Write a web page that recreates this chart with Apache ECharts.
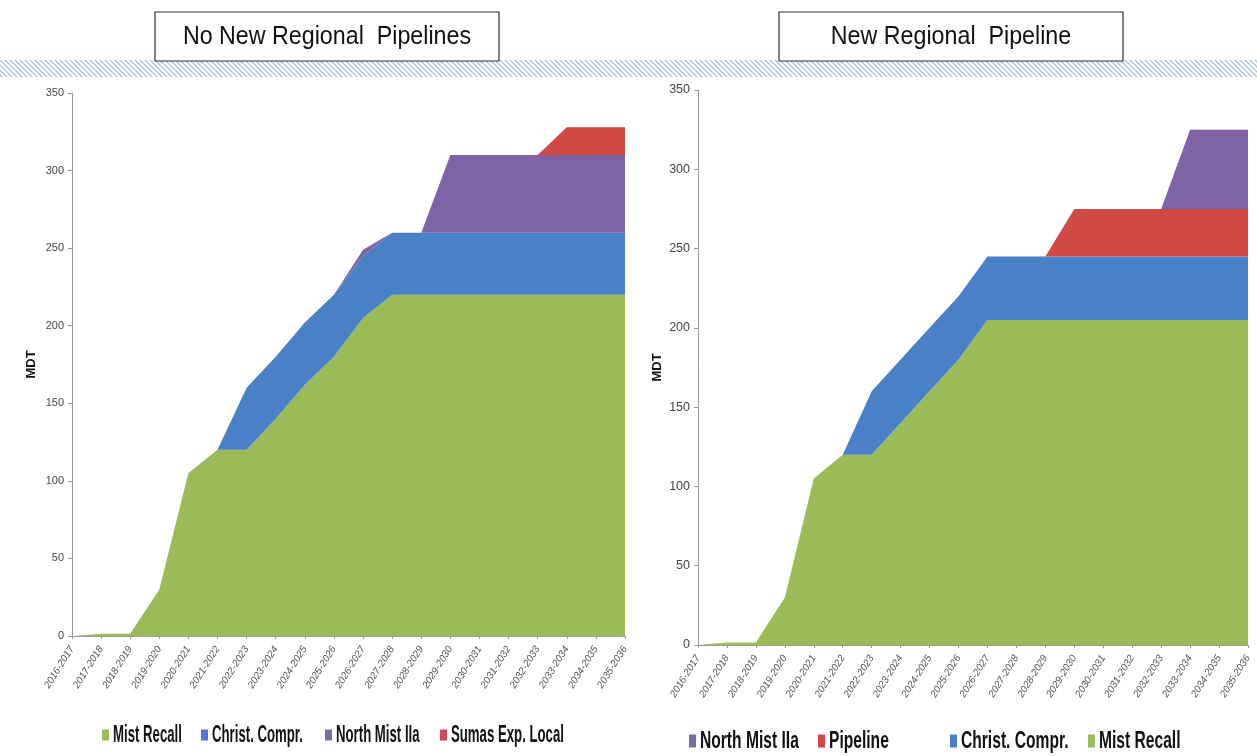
<!DOCTYPE html>
<html>
<head>
<meta charset="utf-8">
<title>MDT outlook</title>
<script src="https://cdn.jsdelivr.net/npm/echarts@6/dist/echarts.min.js"></script>
<style>
  html, body { margin: 0; padding: 0; background: #fff; }
  #chart { width: 1257px; height: 756px; }
</style>
</head>
<body>
<div id="chart"></div>
<script>
// Gas-year categories shared by both panels
const categories = [
  '2016-2017', '2017-2018', '2018-2019', '2019-2020', '2020-2021',
  '2021-2022', '2022-2023', '2023-2024', '2024-2025', '2025-2026',
  '2026-2027', '2027-2028', '2028-2029', '2029-2030', '2030-2031',
  '2031-2032', '2032-2033', '2033-2034', '2034-2035', '2035-2036'
];
const yTicks = [0, 50, 100, 150, 200, 250, 300, 350];

// Panel 1: no new regional pipelines (MDT per resource, stacked)
const mistRecallA   = [0, 1.5, 1.5, 30, 105, 120, 120, 140, 162, 180, 205, 220, 220, 220, 220, 220, 220, 220, 220, 220];
const christComprA  = [0, 0, 0, 0, 0, 0, 40, 40, 40, 40, 40, 40, 40, 40, 40, 40, 40, 40, 40, 40];
const northMistA    = [0, 0, 0, 0, 0, 0, 0, 0, 0, 0, 4, 0, 0, 50, 50, 50, 50, 50, 50, 50];
const sumasLocalA   = [0, 0, 0, 0, 0, 0, 0, 0, 0, 0, 0, 0, 0, 0, 0, 0, 0, 18, 18, 18];

// Panel 2: new regional pipeline (MDT per resource, stacked)
const mistRecallB   = [0, 1.5, 1.5, 30, 105, 120, 120, 140, 160, 180, 205, 205, 205, 205, 205, 205, 205, 205, 205, 205];
const christComprB  = [0, 0, 0, 0, 0, 0, 40, 40, 40, 40, 40, 40, 40, 40, 40, 40, 40, 40, 40, 40];
const pipelineB     = [0, 0, 0, 0, 0, 0, 0, 0, 0, 0, 0, 0, 0, 30, 30, 30, 30, 30, 30, 30];
const northMistB    = [0, 0, 0, 0, 0, 0, 0, 0, 0, 0, 0, 0, 0, 0, 0, 0, 0, 50, 50, 50];

// Legend entries in the order each panel lists them
const legendNamesA = ['Mist Recall', 'Christ. Compr.', 'North Mist IIa', 'Sumas Exp. Local'];
const legendNamesB = ['North Mist IIa', 'Pipeline', 'Christ. Compr.', 'Mist Recall'];

const COLORS = {
  green: '#9bbb59',
  blue: '#4a80c6',
  purple: '#8062a6',
  red: '#cf4a44'
};

const SANS = "'Liberation Sans', Arial, sans-serif";

// Diagonal hatch used for the band under the panel titles
function hatchPattern() {
  const c = document.createElement('canvas');
  c.width = 5; c.height = 5;
  const g = c.getContext('2d');
  g.fillStyle = '#ffffff';
  g.fillRect(0, 0, 5, 5);
  g.strokeStyle = '#a9c3df';
  g.lineWidth = 1.3;
  g.beginPath();
  g.moveTo(-1, -1); g.lineTo(6, 6);
  g.moveTo(-1, 4); g.lineTo(1, 6);
  g.moveTo(4, -1); g.lineTo(6, 1);
  g.stroke();
  return { image: c, repeat: 'repeat' };
}

function xAxisFor(gridIndex) {
  return {
    type: 'category',
    gridIndex: gridIndex,
    data: categories,
    boundaryGap: false,
    axisLine: { lineStyle: { color: '#9a9a9a', width: 1 } },
    axisTick: { show: true, length: 3, lineStyle: { color: '#9a9a9a' } },
    axisLabel: {
      interval: 0, rotate: 58, fontSize: 10, fontStyle: 'italic',
      color: '#555', margin: 11, fontFamily: SANS
    },
    splitLine: { show: false }
  };
}

function yAxisFor(gridIndex, labelSize) {
  return {
    type: 'value',
    gridIndex: gridIndex,
    min: yTicks[0],
    max: yTicks[yTicks.length - 1],
    interval: 50,
    name: 'MDT',
    nameLocation: 'middle',
    nameRotate: 90,
    nameGap: 34,
    nameTextStyle: { fontWeight: 'bold', fontSize: 13, color: '#111', fontFamily: SANS },
    axisLine: { show: true, lineStyle: { color: '#9a9a9a', width: 1 } },
    axisTick: { show: true, length: 4, lineStyle: { color: '#9a9a9a' } },
    axisLabel: { fontSize: labelSize, color: '#444', margin: 8, fontFamily: SANS },
    splitLine: { show: false }
  };
}

function areaSeries(name, data, color, idx, stack) {
  return {
    name: name,
    type: 'line',
    xAxisIndex: idx,
    yAxisIndex: idx,
    stack: stack,
    data: data,
    symbol: 'none',
    lineStyle: { width: 0 },
    itemStyle: { color: color },
    areaStyle: { color: color, opacity: 1 },
    emphasis: { disabled: true },
    silent: true
  };
}

// Condensed bold legend row: a colour square then the label, at fixed x positions
function legendRow(names, colors, markerXs, cy, squeeze, markerH) {
  const children = [];
  names.forEach(function (name, i) {
    children.push({
      type: 'rect',
      shape: { x: markerXs[i], y: cy - markerH / 2, width: 7, height: markerH },
      style: { fill: colors[i] }
    });
    children.push({
      type: 'text',
      x: markerXs[i] + 11,
      y: cy,
      scaleX: squeeze,
      style: {
        text: name, fill: '#111',
        font: 'bold 24px ' + SANS,
        align: 'left', verticalAlign: 'middle'
      }
    });
  });
  return { type: 'group', silent: true, children: children };
}

function titleBox(x, label) {
  return {
    type: 'group',
    x: x, y: 12,
    children: [
      { type: 'rect', shape: { x: 0, y: 0, width: 344, height: 49 },
        style: { fill: '#fff', stroke: '#333', lineWidth: 1.2 } },
      { type: 'text', x: 172, y: 25, scaleX: 0.93,
        style: { text: label, fill: '#111', font: '25px ' + SANS,
                 align: 'center', verticalAlign: 'middle' } }
    ]
  };
}

const chart = echarts.init(document.getElementById('chart'), null, { renderer: 'canvas' });

chart.setOption({
  animation: false,
  backgroundColor: '#fff',
  grid: [
    { left: 72, top: 93, right: 632, bottom: 120 },
    { left: 698, top: 90, right: 9, bottom: 111 }
  ],
  xAxis: [xAxisFor(0), xAxisFor(1)],
  yAxis: [yAxisFor(0, 11), yAxisFor(1, 12.5)],
  series: [
    areaSeries('Mist Recall', mistRecallA, COLORS.green, 0, 'a'),
    areaSeries('Christ. Compr.', christComprA, COLORS.blue, 0, 'a'),
    areaSeries('North Mist IIa', northMistA, COLORS.purple, 0, 'a'),
    areaSeries('Sumas Exp. Local', sumasLocalA, COLORS.red, 0, 'a'),
    areaSeries('Mist Recall', mistRecallB, COLORS.green, 1, 'b'),
    areaSeries('Christ. Compr.', christComprB, COLORS.blue, 1, 'b'),
    areaSeries('Pipeline', pipelineB, COLORS.red, 1, 'b'),
    areaSeries('North Mist IIa', northMistB, COLORS.purple, 1, 'b')
  ],
  graphic: [
    { type: 'rect', x: 0, y: 60, z: 0, silent: true,
      shape: { width: 1257, height: 17 }, style: { fill: hatchPattern() } },
    titleBox(155, 'No New Regional  Pipelines'),
    titleBox(779, 'New Regional  Pipeline'),
    legendRow(legendNamesA, ['#9bbb59', '#5b72de', '#7470a4', '#d6435a'],
              [102, 201, 325, 440], 735, 0.55, 11),
    legendRow(legendNamesB, ['#7470a4', '#d5444f', '#4a80c6', '#9bbb59'],
              [689, 818, 950, 1088], 741, 0.65, 13)
  ]
});
</script>
</body>
</html>
